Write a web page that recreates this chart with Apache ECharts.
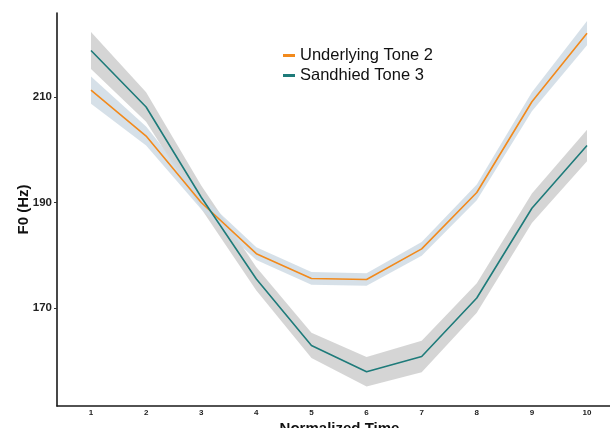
<!DOCTYPE html>
<html>
<head>
<meta charset="utf-8">
<script src="https://cdn.jsdelivr.net/npm/echarts@6/dist/echarts.min.js"></script>
<style>html,body{margin:0;padding:0;background:#fff;}#c{width:610px;height:428px;}</style>
</head>
<body>
<div id="c"></div>
<script>
var times = [1, 2, 3, 4, 5, 6, 7, 8, 9, 10];
var tone2 = [211.3, 202.6, 190.0, 180.3, 175.6, 175.4, 181.2, 191.9, 209.1, 222.1];
var tone3 = [218.8, 208.1, 191.0, 175.5, 162.9, 157.9, 160.8, 171.9, 188.9, 200.8];
var tone2Half = [2.6, 1.8, 1.3, 1.2, 1.2, 1.2, 1.3, 1.5, 1.8, 2.3];
var tone3Half = [3.5, 2.8, 2.2, 2.2, 2.4, 2.8, 3.0, 2.8, 2.8, 3.0];
var yTicks = [170, 190, 210];
var names = ['Underlying Tone 2', 'Sandhied Tone 3'];

function pairs(vals) { return times.map(function (t, i) { return [t, vals[i]]; }); }

function bandSeries(vals, hw, color, z) {
  return {
    type: 'custom',
    silent: true,
    z: z,
    data: [0],
    renderItem: function (params, api) {
      var pts = [];
      for (var i = 0; i < times.length; i++) pts.push(api.coord([times[i], vals[i] + hw[i]]));
      for (var j = times.length - 1; j >= 0; j--) pts.push(api.coord([times[j], vals[j] - hw[j]]));
      return {type: 'polygon', shape: {points: pts}, style: {fill: color, stroke: null}};
    }
  };
}

var font = 'Liberation Sans, Arial, sans-serif';
var chart = echarts.init(document.getElementById('c'), null, {renderer: 'canvas'});
chart.setOption({
  animation: false,
  textStyle: {fontFamily: font},
  grid: {left: 57, right: 0, top: 13, bottom: 22, containLabel: false, outerBoundsMode: 'none'},
  legend: {
    data: names,
    orient: 'vertical',
    left: 278,
    top: 42,
    itemWidth: 12,
    itemHeight: 3,
    itemGap: 3,
    icon: 'rect',
    textStyle: {fontSize: 16.5, color: '#111', fontFamily: font}
  },
  xAxis: {
    type: 'value',
    min: 0.383,
    max: 10.417,
    name: 'Normalized Time',
    nameLocation: 'middle',
    nameGap: 15,
    nameMoveOverlap: false,
    nameTextStyle: {fontSize: 15, fontWeight: 'bold', color: '#111', padding: [0, 0, 0, 12]},
    axisLine: {show: true, lineStyle: {color: '#1a1a1a', width: 1.6}},
    axisTick: {show: false},
    splitLine: {show: false},
    axisLabel: {customValues: times, fontSize: 8, fontWeight: 'bold', color: '#222', margin: 3}
  },
  yAxis: {
    type: 'value',
    min: 151.42,
    max: 225.92,
    name: 'F0 (Hz)',
    nameLocation: 'middle',
    nameRotate: 90,
    nameGap: 26,
    nameMoveOverlap: false,
    nameTextStyle: {fontSize: 15, fontWeight: 'bold', color: '#111'},
    axisLine: {show: true, lineStyle: {color: '#1a1a1a', width: 1.6}},
    axisTick: {show: true, customValues: yTicks, length: 3, lineStyle: {color: '#333', width: 1}},
    splitLine: {show: false},
    axisLabel: {customValues: yTicks, fontSize: 11.5, fontWeight: 'bold', color: '#222', margin: 5}
  },
  series: [
    bandSeries(tone3, tone3Half, 'rgba(203,203,203,0.8)', 1),
    bandSeries(tone2, tone2Half, 'rgba(207,219,228,0.85)', 2),
    {name: names[0], type: 'line', data: pairs(tone2), symbol: 'none', color: '#f28a1c',
      lineStyle: {color: '#f28a1c', width: 1.6}, z: 5},
    {name: names[1], type: 'line', data: pairs(tone3), symbol: 'none', color: '#1e7b7a',
      lineStyle: {color: '#1e7b7a', width: 1.6}, z: 5}
  ]
});
</script>
</body>
</html>
